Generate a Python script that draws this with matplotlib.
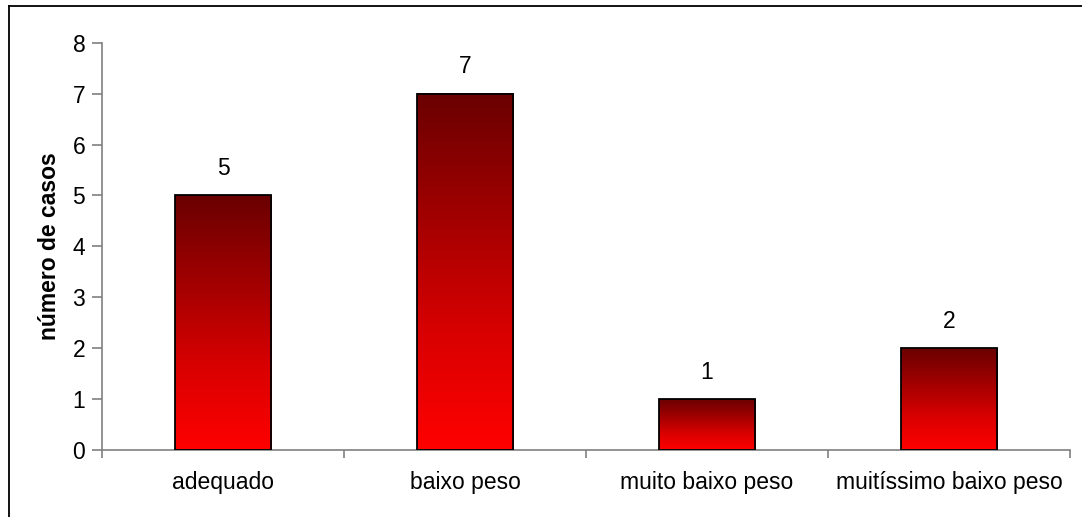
import numpy as np
import matplotlib.pyplot as plt
from matplotlib.colors import LinearSegmentedColormap
from matplotlib.lines import Line2D

categorias = ['adequado', 'baixo peso', 'muito baixo peso', 'muitíssimo baixo peso']
casos = [5, 7, 1, 2]

plt.rcParams['font.family'] = ['Liberation Sans', 'DejaVu Sans']

W, H = 1082, 517
fig = plt.figure(figsize=(W / 100, H / 100), dpi=100)
ax = fig.add_axes([102 / W, 1 - 450 / H, (1070 - 102) / W, (450 - 42.7) / H])

# gradient: dark red on top, bright red at the base of each bar
cmap = LinearSegmentedColormap.from_list('verm', ['#ff0000', '#d80000', '#a00000', '#6a0000'])
grad = np.linspace(0, 1, 256).reshape(-1, 1)

fs = 16.5
largura = 0.4
x = np.arange(len(categorias))
for xi, v in zip(x, casos):
    ax.imshow(grad, extent=[xi - largura / 2, xi + largura / 2, 0, v],
              aspect='auto', cmap=cmap, origin='lower', zorder=2)
    ax.bar(xi, v, width=largura, facecolor='none', edgecolor='black',
           linewidth=1.3, zorder=3)
    ax.annotate(str(v), (xi, v), xytext=(0, 11), textcoords='offset points',
                ha='center', va='bottom', fontsize=fs)

ax.set_xlim(-0.5, len(categorias) - 0.5)
ax.set_ylim(0, 8)
ax.set_yticks(range(0, 9))
ax.set_xticks(x)
ax.set_xticklabels(categorias)
ax.set_xticks(np.arange(-0.5, len(categorias)), minor=True)

for s in ['top', 'right']:
    ax.spines[s].set_visible(False)
for s in ['left', 'bottom']:
    ax.spines[s].set_color('#808080')
    ax.spines[s].set_linewidth(1.2)

ax.tick_params(axis='y', length=7, width=1.2, color='#808080', labelsize=fs, pad=5)
ax.tick_params(axis='x', which='major', length=0, labelsize=fs, pad=15)
ax.tick_params(axis='x', which='minor', length=6, width=1.2, color='#808080')

ax.set_ylabel('número de casos', fontsize=fs, fontweight='bold', labelpad=8)

# outer frame of the chart area
fig.add_artist(Line2D([8.5 / W, 8.5 / W], [0, 1 - 5.5 / H], color='black', lw=1.3))
fig.add_artist(Line2D([8.5 / W, 1], [1 - 5.5 / H, 1 - 5.5 / H], color='black', lw=1.3))

fig.savefig('out.png', dpi=100)
